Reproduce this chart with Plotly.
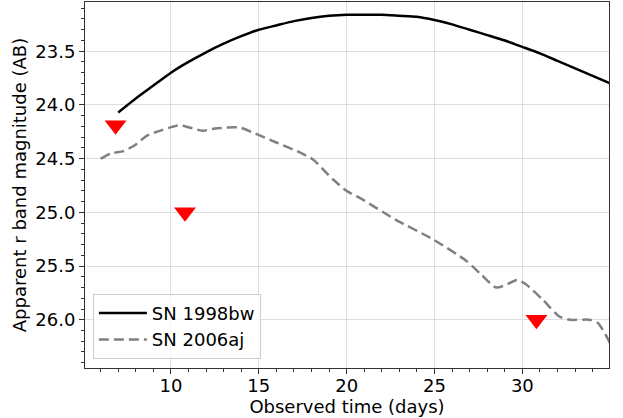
import plotly.graph_objects as go

# SN 1998bw template light curve
bw_days = [7.0, 8, 9, 10, 11, 12, 13, 14, 15, 16, 17, 18, 19, 20, 21, 22, 23, 24,
           25, 26, 27, 28, 29, 30, 31, 32, 33, 34, 35]
bw_mag = [24.07, 23.94, 23.82, 23.70, 23.60, 23.51, 23.43, 23.36, 23.30, 23.26, 23.22,
          23.19, 23.17, 23.16, 23.16, 23.16, 23.17, 23.18, 23.21, 23.25, 23.30, 23.35,
          23.40, 23.46, 23.52, 23.59, 23.66, 23.73, 23.80]

# SN 2006aj template light curve
aj_days = [6.0, 6.6, 7.3, 7.9, 8.6, 9.2, 10.5, 11.8, 12.5, 13.9, 14.7, 16.0, 17.3, 18.1,
           19.2, 20.0, 20.9, 22.8, 24.9, 26.8, 27.6, 28.5, 29.0, 29.7, 30.2, 31.2, 32.1,
           32.7, 33.8, 34.3, 35.0]
aj_mag = [24.50, 24.45, 24.43, 24.38, 24.29, 24.25, 24.19, 24.24, 24.22, 24.21, 24.26,
          24.35, 24.44, 24.51, 24.69, 24.80, 24.88, 25.07, 25.25, 25.45, 25.57, 25.70,
          25.68, 25.63, 25.67, 25.82, 25.97, 26.00, 26.00, 26.03, 26.22]

# Upper limits
lim_days = [6.85, 10.8, 30.8]
lim_mag = [24.19, 25.0, 26.0]

FONT = "DejaVu Sans"
FS = 18

fig = go.Figure()
fig.add_trace(go.Scatter(x=bw_days, y=bw_mag, mode="lines", name="SN 1998bw",
                         line=dict(color="black", width=2.5, shape="spline", smoothing=0.5)))
fig.add_trace(go.Scatter(x=aj_days, y=aj_mag, mode="lines", name="SN 2006aj",
                         line=dict(color="gray", width=2.5, dash="10px,5px",
                                   shape="spline", smoothing=0.6)))
fig.add_trace(go.Scatter(x=lim_days, y=lim_mag, mode="markers", showlegend=False,
                         marker=dict(symbol="triangle-down", size=19, color="red",
                                     line=dict(width=0))))

axis_common = dict(
    showline=True, linecolor="#333333", linewidth=1, mirror=True,
    showgrid=True, gridcolor="#dddddd", gridwidth=1,
    ticks="outside", ticklen=5, tickcolor="#333333",
    tickfont=dict(family=FONT, size=FS, color="black"),
    zeroline=False,
)

fig.update_xaxes(range=[5.11, 34.93], tickvals=[10, 15, 20, 25, 30],
                 ticklabelstandoff=-4,
                 minor=dict(dtick=1, tick0=0, ticks="outside", ticklen=3,
                            tickcolor="#333333", showgrid=False),
                 title=dict(text="Observed time (days)", font=dict(family=FONT, size=FS, color="black"),
                            standoff=3),
                 **axis_common)
fig.update_yaxes(range=[26.449, 23.042], tickvals=[23.5, 24.0, 24.5, 25.0, 25.5, 26.0],
                 ticktext=["23.5", "24.0", "24.5", "25.0", "25.5", "26.0"],
                 minor=dict(dtick=0.1, tick0=0, ticks="outside", ticklen=3,
                            tickcolor="#333333", showgrid=False),
                 title=dict(text="Apparent r band magnitude (AB)",
                            font=dict(family=FONT, size=FS, color="black"), standoff=4),
                 **axis_common)

fig.update_layout(
    width=623, height=418,
    margin=dict(l=85, r=14, t=2, b=50),
    paper_bgcolor="white", plot_bgcolor="white",
    font=dict(family=FONT, size=FS, color="black"),
    legend=dict(x=0.015, y=0.025, xanchor="left", yanchor="bottom",
                bgcolor="rgba(255,255,255,0.8)", bordercolor="#cccccc", borderwidth=1,
                font=dict(family=FONT, size=FS, color="black"),
                tracegroupgap=0, itemwidth=48),
)

fig.write_html("out.html")
